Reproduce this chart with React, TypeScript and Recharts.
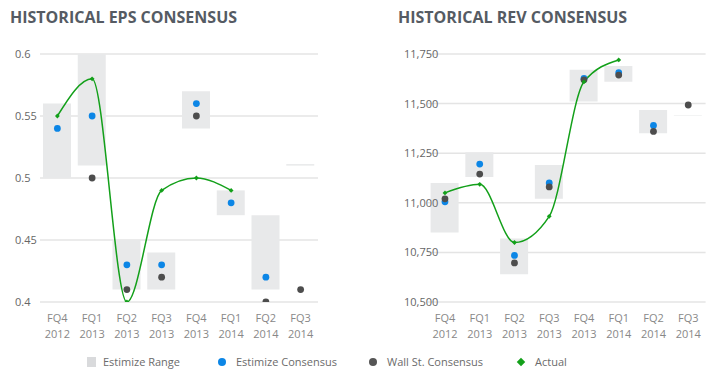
import React from "react";
import {
  Bar,
  CartesianGrid,
  ComposedChart,
  Line,
  Scatter,
  XAxis,
  YAxis,
} from "recharts";

const quarters = [
  "FQ4 2012",
  "FQ1 2013",
  "FQ2 2013",
  "FQ3 2013",
  "FQ4 2013",
  "FQ1 2014",
  "FQ2 2014",
  "FQ3 2014",
];

// EPS
const epsRangeLow = [0.5, 0.51, 0.41, 0.41, 0.54, 0.47, 0.41, 0.51];
const epsRangeHigh = [0.56, 0.6, 0.45, 0.44, 0.57, 0.49, 0.47, 0.5112];
const epsEstimize = [0.54, 0.55, 0.43, 0.43, 0.56, 0.48, 0.42, null];
const epsWallSt = [null, 0.5, 0.41, 0.42, 0.55, null, 0.4, 0.41];
const epsActual = [0.55, 0.58, 0.4, 0.49, 0.5, 0.49, null, null];
const epsTicks = [0.4, 0.45, 0.5, 0.55, 0.6];

// Revenue
const revRangeLow = [10850, 11130, 10640, 11020, 11510, 11610, 11350, 11440];
const revRangeHigh = [11100, 11255, 10820, 11190, 11670, 11690, 11468, 11443];
const revEstimize = [11005, 11195, 10735, 11100, 11627, 11656, 11390, null];
const revWallSt = [11020, 11145, 10697, 11080, 11620, 11644, 11360, 11493];
const revActual = [11050, 11093, 10800, 10932, 11610, 11720, null, null];
const revTicks = [10500, 10750, 11000, 11250, 11500, 11750];

const FONT = "'Open Sans', sans-serif";
const BLUE = "#0c86e6";
const DARK = "#4d4d4d";
const GREEN = "#13a01a";
const RANGE = "#e8e9ea";

type Row = {
  q: string;
  range: [number, number];
  est: number | null;
  wall: number | null;
  actual: number | null;
};

function buildRows(
  low: number[],
  high: number[],
  est: (number | null)[],
  wall: (number | null)[],
  actual: (number | null)[],
): Row[] {
  return quarters.map((q, i) => ({
    q,
    range: [low[i], high[i]],
    est: est[i],
    wall: wall[i],
    actual: actual[i],
  }));
}

const dotShape = (key: "est" | "wall", color: string) => (p: any) => {
  if (p.payload == null || p.payload[key] == null) return <g />;
  return <circle cx={p.cx} cy={p.cy} r={3.4} fill={color} />;
};

const Diamond = (p: any) => {
  if (p.cx == null || p.cy == null || p.value == null) return <g key={p.index} />;
  const s = 2.4;
  return (
    <path
      key={p.index}
      d={`M${p.cx},${p.cy - s}L${p.cx + s},${p.cy}L${p.cx},${p.cy + s}L${p.cx - s},${p.cy}Z`}
      fill={GREEN}
    />
  );
};

const XTick = (p: any) => {
  const [a, b] = String(p.payload.value).split(" ");
  return (
    <g>
      <text x={p.x} y={p.y + 12} textAnchor="middle" fill="#888" fontSize={11} fontFamily={FONT}>
        {a}
      </text>
      <text x={p.x} y={p.y + 28} textAnchor="middle" fill="#888" fontSize={11} fontFamily={FONT}>
        {b}
      </text>
    </g>
  );
};

const makeYTick = (left: number, fmt: (v: number) => string) => (p: any) => (
  <text
    x={left}
    y={p.y + 4}
    textAnchor="start"
    fill="#666"
    fontSize={11}
    fontFamily={FONT}
  >
    {fmt(p.payload.value)}
  </text>
);

type PanelProps = {
  title: string;
  rows: Row[];
  domain: [number, number];
  ticks: number[];
  fmt: (v: number) => string;
  left: number;
  width: number;
  marginLeft: number;
  marginRight: number;
  tickX: number;
  titleX: number;
};

function Panel({
  title,
  rows,
  domain,
  ticks,
  fmt,
  left,
  width,
  marginLeft,
  marginRight,
  tickX,
  titleX,
}: PanelProps) {
  return (
    <div style={{ position: "absolute", left, top: 0, width, height: 340 }}>
      <div
        style={{
          position: "absolute",
          left: titleX,
          top: 6,
          fontFamily: FONT,
          fontWeight: 700,
          fontSize: 16,
          color: "#555b63",
          whiteSpace: "nowrap",
        }}
      >
        {title}
      </div>
      <ComposedChart
        width={width}
        height={340}
        data={rows}
        margin={{ top: 54, right: marginRight, left: marginLeft, bottom: 0 }}
        barCategoryGap={7}
      >
        <CartesianGrid vertical={false} stroke="#e4e4e4" strokeWidth={1.5} />
        <XAxis
          dataKey="q"
          axisLine={false}
          tickLine={false}
          height={38}
          interval={0}
          tick={<XTick />}
          allowDuplicatedCategory={false}
        />
        <YAxis
          type="number"
          domain={domain}
          ticks={ticks}
          axisLine={false}
          tickLine={false}
          width={30}
          tick={makeYTick(tickX, fmt)}
          allowDataOverflow
        />
        <Bar dataKey="range" fill={RANGE} barSize={28} isAnimationActive={false} />
        <Scatter dataKey="est" shape={dotShape("est", BLUE)} isAnimationActive={false} />
        <Scatter dataKey="wall" shape={dotShape("wall", DARK)} isAnimationActive={false} />
        <Line
          type="monotone"
          dataKey="actual"
          stroke={GREEN}
          strokeWidth={1.5}
          dot={<Diamond />}
          activeDot={false}
          isAnimationActive={false}
        />
      </ComposedChart>
    </div>
  );
}

const legendItems = [
  { label: "Estimize Range", x: 87, tx: 103, kind: "square", color: "#d9dadc" },
  { label: "Estimize Consensus", x: 218, tx: 236, kind: "circle", color: BLUE },
  { label: "Wall St. Consensus", x: 369, tx: 387, kind: "circle", color: "#555" },
  { label: "Actual", x: 517, tx: 535, kind: "diamond", color: GREEN },
];

export default function App() {
  const epsRows = buildRows(epsRangeLow, epsRangeHigh, epsEstimize, epsWallSt, epsActual);
  const revRows = buildRows(revRangeLow, revRangeHigh, revEstimize, revWallSt, revActual);

  return (
    <div
      style={{
        position: "absolute",
        left: 0,
        top: 0,
        width: 713,
        height: 380,
        background: "#fff",
        overflow: "hidden",
      }}
    >
      <Panel
        title="HISTORICAL EPS CONSENSUS"
        rows={epsRows}
        domain={[0.4, 0.6]}
        ticks={epsTicks}
        fmt={(v) => String(Math.round(v * 100) / 100)}
        left={0}
        width={330}
        marginLeft={10}
        marginRight={12}
        tickX={15}
        titleX={10}
      />
      <Panel
        title="HISTORICAL REV CONSENSUS"
        rows={revRows}
        domain={[10500, 11750]}
        ticks={revTicks}
        fmt={(v) => v.toLocaleString("en-US")}
        left={360}
        width={353}
        marginLeft={37.6}
        marginRight={7.4}
        tickX={44}
        titleX={38}
      />
      {legendItems.map((it) => (
        <React.Fragment key={it.label}>
          {it.kind === "square" && (
            <div
              style={{
                position: "absolute",
                left: it.x,
                top: 357,
                width: 9,
                height: 10,
                background: it.color,
              }}
            />
          )}
          {it.kind === "circle" && (
            <div
              style={{
                position: "absolute",
                left: it.x,
                top: 358,
                width: 8,
                height: 8,
                borderRadius: 4,
                background: it.color,
              }}
            />
          )}
          {it.kind === "diamond" && (
            <div
              style={{
                position: "absolute",
                left: it.x + 1,
                top: 359,
                width: 6,
                height: 6,
                transform: "rotate(45deg)",
                background: it.color,
              }}
            />
          )}
          <div
            style={{
              position: "absolute",
              left: it.tx,
              top: 354,
              fontFamily: FONT,
              fontSize: 11,
              color: "#6b6b6b",
              whiteSpace: "nowrap",
            }}
          >
            {it.label}
          </div>
        </React.Fragment>
      ))}
    </div>
  );
}
